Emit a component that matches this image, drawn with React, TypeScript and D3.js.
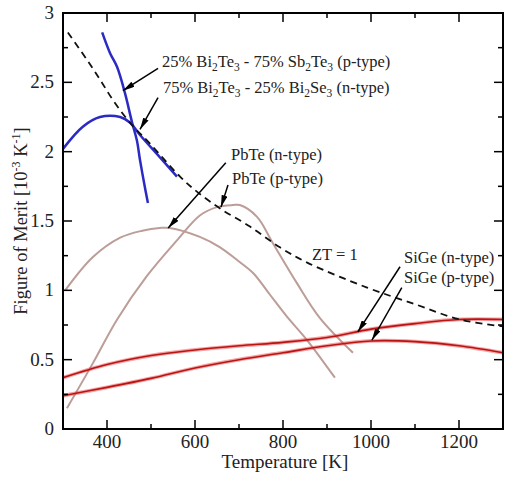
import React from "react";
import * as d3 from "d3";

const W = 509;
const H = 477;

const xDomain = [300, 1300];
const yDomain = [0, 3];
const xMajor = [400, 600, 800, 1000, 1200];
const xMinor = [500, 700, 900, 1100];
const yMajor = [0, 0.5, 1, 1.5, 2, 2.5, 3];
const yMajorLabels = ["0", "0.5", "1", "1.5", "2", "2.5", "3"];
const yMinor = [0.25, 0.75, 1.25, 1.75, 2.25, 2.75];

// ZT = 1 reference
const ztT = [311, 355, 384, 414, 452, 500, 566, 605, 657, 725, 793, 855, 991, 1100, 1202, 1300];
const ztZ = [2.86, 2.66, 2.52, 2.37, 2.21, 2.05, 1.82, 1.71, 1.59, 1.46, 1.31, 1.2, 1.02, 0.9, 0.79, 0.74];

// 25% Bi2Te3 - 75% Sb2Te3 (p-type)
const bstT = [389, 407, 423, 441, 457, 468, 475, 486, 493];
const bstZ = [2.86, 2.71, 2.61, 2.42, 2.21, 2.08, 1.94, 1.745, 1.63];

// 75% Bi2Te3 - 25% Bi2Se3 (n-type)
const btsT = [300, 345, 384, 430, 452, 475, 520, 559];
const btsZ = [2.02, 2.18, 2.25, 2.25, 2.21, 2.12, 1.96, 1.82];

// PbTe (n-type)
const pbnT = [305, 368, 430, 480, 520, 543, 611, 657, 695, 732, 770, 809, 855, 918];
const pbnZ = [1.0, 1.24, 1.38, 1.43, 1.45, 1.45, 1.385, 1.31, 1.22, 1.125, 0.97, 0.81, 0.64, 0.37];

// PbTe (p-type)
const pbpT = [309, 368, 423, 490, 559, 611, 650, 686, 702, 741, 777, 832, 884, 959];
const pbpZ = [0.15, 0.475, 0.79, 1.1, 1.36, 1.54, 1.6, 1.615, 1.615, 1.53, 1.34, 1.05, 0.8, 0.55];

// SiGe (n-type)
const sgnT = [300, 400, 500, 600, 700, 800, 900, 1000, 1100, 1200, 1300];
const sgnZ = [0.37, 0.465, 0.53, 0.57, 0.6, 0.625, 0.66, 0.72, 0.76, 0.79, 0.79];

// SiGe (p-type)
const sgpT = [300, 400, 500, 600, 700, 800, 900, 1000, 1100, 1200, 1300];
const sgpZ = [0.24, 0.3, 0.365, 0.44, 0.5, 0.55, 0.6, 0.635, 0.63, 0.6, 0.55];

// annotation anchors in data space: [T, Z]
const arrowsFrom = [[516, 2.6], [516, 2.39], [670, 1.92], [675, 1.76], [1066, 1.17], [1070, 1.02]];
const arrowsTo = [[436, 2.44], [475, 2.16], [539, 1.45], [659, 1.6], [970, 0.7], [1002, 0.64]];

const zip = (a: number[], b: number[]) => a.map((v, i) => [v, b[i]] as [number, number]);

export default function App() {
  const x = d3.scaleLinear().domain(xDomain).range([63, 503]);
  const y = d3.scaleLinear().domain(yDomain).range([429, 13]);
  const line = d3
    .line<[number, number]>()
    .x((d) => x(d[0]))
    .y((d) => y(d[1]))
    .curve(d3.curveCatmullRom.alpha(0.5));

  const x0 = x.range()[0], x1 = x.range()[1];
  const y0 = y.range()[0], y1 = y.range()[1];
  const font = "Liberation Serif, DejaVu Serif, Times New Roman, serif";
  const blue = "#2b2bc4";
  const brown = "#bc9d97";
  const sub = { fontSize: 11.5 };
  const ts = { fontFamily: font };

  const redLine = (d: string) => (
    <g>
      <path d={d} fill="none" stroke="#f04848" strokeOpacity={0.5} strokeWidth={3.8} />
      <path d={d} fill="none" stroke="#b81414" strokeWidth={1.6} />
    </g>
  );

  return (
    <svg width={W} height={H} style={{ position: "absolute", left: 0, top: 0, background: "#fff", fontFamily: font }}>
      <defs>
        <marker id="ah" viewBox="0 0 12 6" refX={12} refY={3} markerWidth={12} markerHeight={6} markerUnits="userSpaceOnUse" orient="auto">
          <path d="M0,0 L12,3 L0,6 Z" fill="#000" />
        </marker>
        <clipPath id="clip">
          <rect x={x0} y={y1} width={x1 - x0} height={y0 - y1} />
        </clipPath>
      </defs>

      <g clipPath="url(#clip)">
        <path d={line(zip(pbnT, pbnZ)) || ""} fill="none" stroke={brown} strokeWidth={2} />
        <path d={line(zip(pbpT, pbpZ)) || ""} fill="none" stroke={brown} strokeWidth={2} />
        {redLine(line(zip(sgnT, sgnZ)) || "")}
        {redLine(line(zip(sgpT, sgpZ)) || "")}
        <path d={line(zip(btsT, btsZ)) || ""} fill="none" stroke={blue} strokeWidth={2.5} />
        <path d={line(zip(bstT, bstZ)) || ""} fill="none" stroke={blue} strokeWidth={2.5} />
        <path d={line(zip(ztT, ztZ)) || ""} fill="none" stroke="#111" strokeWidth={1.8} strokeDasharray="7,5" />
      </g>

      {arrowsFrom.map((f, i) => (
        <line key={i} x1={x(f[0])} y1={y(f[1])} x2={x(arrowsTo[i][0])} y2={y(arrowsTo[i][1])} stroke="#000" strokeWidth={1.5} markerEnd="url(#ah)" />
      ))}

      <g fontSize={16.5} fill="#222" style={ts}>
        <text x={x(525)} y={y(2.61)} style={ts}>
          25% Bi<tspan dy={4} style={sub}>2</tspan><tspan dy={-4}>Te</tspan><tspan dy={4} style={sub}>3</tspan>
          <tspan dy={-4}> - 75% Sb</tspan><tspan dy={4} style={sub}>2</tspan><tspan dy={-4}>Te</tspan><tspan dy={4} style={sub}>3</tspan>
          <tspan dy={-4}> (p-type)</tspan>
        </text>
        <text x={x(527)} y={y(2.42)} style={ts}>
          75% Bi<tspan dy={4} style={sub}>2</tspan><tspan dy={-4}>Te</tspan><tspan dy={4} style={sub}>3</tspan>
          <tspan dy={-4}> - 25% Bi</tspan><tspan dy={4} style={sub}>2</tspan><tspan dy={-4}>Se</tspan><tspan dy={4} style={sub}>3</tspan>
          <tspan dy={-4}> (n-type)</tspan>
        </text>
        <text x={x(682)} y={y(1.94)} style={ts}>PbTe (n-type)</text>
        <text x={x(684)} y={y(1.77)} style={ts}>PbTe (p-type)</text>
        <text x={x(866)} y={y(1.22)} style={ts}>ZT = 1</text>
        <text x={x(1075)} y={y(1.2)} style={ts}>SiGe (n-type)</text>
        <text x={x(1075)} y={y(1.05)} style={ts}>SiGe (p-type)</text>
      </g>

      <rect x={x0} y={y1} width={x1 - x0} height={y0 - y1} fill="none" stroke="#000" strokeWidth={2} />

      {xMajor.map((t) => (
        <g key={"xm" + t}>
          <line x1={x(t)} x2={x(t)} y1={y0} y2={y0 - 9} stroke="#000" strokeWidth={1.5} />
          <line x1={x(t)} x2={x(t)} y1={y1} y2={y1 + 9} stroke="#000" strokeWidth={1.5} />
          <text x={x(t)} y={448} textAnchor="middle" fontSize={19} fill="#222" style={ts}>{t}</text>
        </g>
      ))}
      {xMinor.map((t) => (
        <g key={"xn" + t}>
          <line x1={x(t)} x2={x(t)} y1={y0} y2={y0 - 5} stroke="#000" strokeWidth={1.5} />
          <line x1={x(t)} x2={x(t)} y1={y1} y2={y1 + 5} stroke="#000" strokeWidth={1.5} />
        </g>
      ))}

      {yMajor.map((t, i) => (
        <g key={"ym" + t}>
          <line x1={x0} x2={x0 + 9} y1={y(t)} y2={y(t)} stroke="#000" strokeWidth={1.5} />
          <line x1={x1} x2={x1 - 9} y1={y(t)} y2={y(t)} stroke="#000" strokeWidth={1.5} />
          <text x={54} y={y(t) + 6} textAnchor="end" fontSize={19} fill="#222" style={ts}>{yMajorLabels[i]}</text>
        </g>
      ))}
      {yMinor.map((t) => (
        <g key={"yn" + t}>
          <line x1={x0} x2={x0 + 5} y1={y(t)} y2={y(t)} stroke="#000" strokeWidth={1.5} />
          <line x1={x1} x2={x1 - 5} y1={y(t)} y2={y(t)} stroke="#000" strokeWidth={1.5} />
        </g>
      ))}

      <text x={(x0 + x1) / 2 + 2} y={468} textAnchor="middle" fontSize={19} fill="#222" style={ts}>Temperature [K]</text>
      <text transform={`translate(27, 221) rotate(-90)`} textAnchor="middle" fontSize={18.5} fill="#222" style={ts}>
        Figure of Merit [10<tspan dy={-7} style={{ fontSize: 12 }}>-3</tspan><tspan dy={7}> K</tspan><tspan dy={-7} style={{ fontSize: 12 }}>-1</tspan><tspan dy={7}>]</tspan>
      </text>
    </svg>
  );
}
